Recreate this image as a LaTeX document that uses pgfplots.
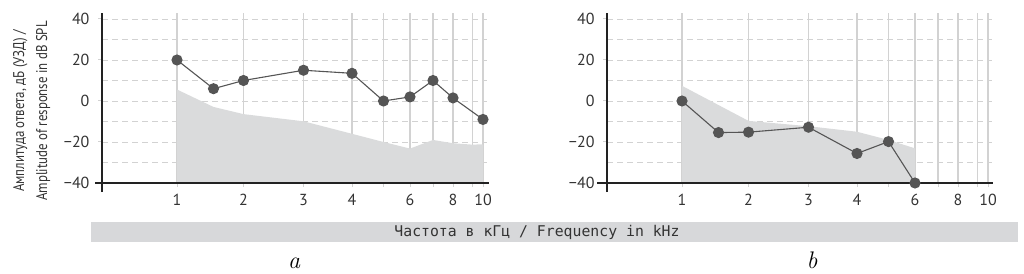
\documentclass[border=0pt]{standalone}
\usepackage{pgfplots}
\pgfplotsset{compat=1.18}
\usepackage{pgfplotstable}
\usepackage{fontspec}
\newfontfamily\pts{PT Sans}
\newfontfamily\narrowfont[FakeStretch=0.83]{PT Sans}
\newfontfamily\monofont{DejaVu Sans Mono}

\definecolor{shade}{HTML}{DADBDC}
\definecolor{gridc}{HTML}{D2D2D2}
\definecolor{ptc}{HTML}{555555}
\definecolor{axc}{HTML}{222222}
\definecolor{barc}{HTML}{D7D8DA}
\definecolor{txt}{HTML}{333333}

% pos = horizontal position on the chart's frequency scale, f = frequency in kHz, db = level
\pgfplotstableread{
pos f db
0 1 20
36.5 1.5 6
66.5 2 10
126.5 3 15
175 4 13.5
206.5 5 0
233 6 2
256 7 10
276 8 1.5
306 10 -9
}\lineA
\pgfplotstableread{
pos f db
0 1 -40
0 1 5.6
36.5 1.5 -2.9
66.5 2 -6.4
126.5 3 -9.9
175 4 -16
206.5 5 -20
233 6 -23.2
256 7 -19
276 8 -20.6
295.5 9 -21.3
306 10 -21.1
306 10 -40
}\shadeA
\pgfplotstableread{
pos f db
0 1 0
36.5 1.5 -15.4
66.5 2 -15.2
126.5 3 -12.8
175 4 -25.6
206.5 5 -19.8
233 6 -40
}\lineB
\pgfplotstableread{
pos f db
0 1 -40
0 1 7.4
66.5 2 -9.7
126.5 3 -12.3
175 4 -15
206.5 5 -19
233 6 -23.1
233 6 -40
}\shadeB

\pgfplotsset{
  myax/.style={
    x=1pt, y=2.05pt,
    xmin=-75, xmax=310, ymin=-40, ymax=43,
    axis x line*=bottom, axis y line*=left,
    axis line style={draw=none},
    xtick={0,66.5,126.5,175,206.5,233,256,276,295.5,306},
    xticklabels={1,2,3,4,,6,,8,,10},
    ytick={-40,-20,0,20,40},
    yticklabels={−40,−20,0,20,40},
    minor ytick={-30,-10,10,30},
    xmajorgrids, ymajorgrids, yminorgrids,
    x grid style={gridc, line width=1.5pt},
    y grid style={gridc, dash pattern=on 6pt off 4pt, line width=0.9pt},
    tick align=outside,
    major tick length=4pt,
    minor tick length=0pt,
    x tick style={gridc, line width=1pt},
    y tick style={gridc, line width=1pt},
    tick label style={font=\pts\fontsize{16}{16}\selectfont, text=txt},
    xticklabel style={yshift=-4pt},
    yticklabel style={xshift=-5pt},
    clip=false,
  },
  ptline/.style={ptc, line width=1.1pt, mark=*, mark size=5pt, mark options={fill=ptc, draw=ptc}},
}

\begin{document}
\begin{tikzpicture}
\useasboundingbox (0,0) rectangle (1024pt,273pt);
\begin{axis}[myax, at={(102pt,90pt)}, anchor=south west]
\addplot[fill=shade, draw=none] table[x=pos, y=db] {\shadeA};
\draw[axc, line width=1.3pt] (axis cs:-82,-40) -- (axis cs:312,-40);
\draw[axc, line width=2pt] (axis cs:-75,-44.4) -- (axis cs:-75,43);
\addplot[ptline] table[x=pos, y=db] {\lineA};
\end{axis}
\begin{axis}[myax, at={(607pt,90pt)}, anchor=south west]
\addplot[fill=shade, draw=none] table[x=pos, y=db] {\shadeB};
\draw[axc, line width=1.3pt] (axis cs:-85,-40) -- (axis cs:311,-40);
\draw[axc, line width=2pt] (axis cs:-75,-44.4) -- (axis cs:-75,43);
\addplot[ptline] table[x=pos, y=db] {\lineB};
\end{axis}
\node[rotate=90, anchor=base, text=txt, font=\narrowfont\fontsize{15.5}{16}\selectfont] at (24pt,162pt) {Амплитуда ответа, дБ (УЗД) /};
\node[rotate=90, anchor=base, text=txt, font=\narrowfont\fontsize{15.5}{16}\selectfont] at (47pt,162pt) {Amplitude of response in dB SPL};
\fill[barc] (91pt,31pt) rectangle (1018pt,51pt);
\node[text=txt, font=\monofont\fontsize{14.8}{15}\selectfont] at (537pt,41pt) {Частота в кГц / Frequency in kHz};
\node[anchor=base, font=\fontsize{24}{24}\selectfont\itshape] at (294pt,5pt) {a};
\node[anchor=base, font=\fontsize{24}{24}\selectfont\itshape] at (812pt,5pt) {b};
\end{tikzpicture}
\end{document}
